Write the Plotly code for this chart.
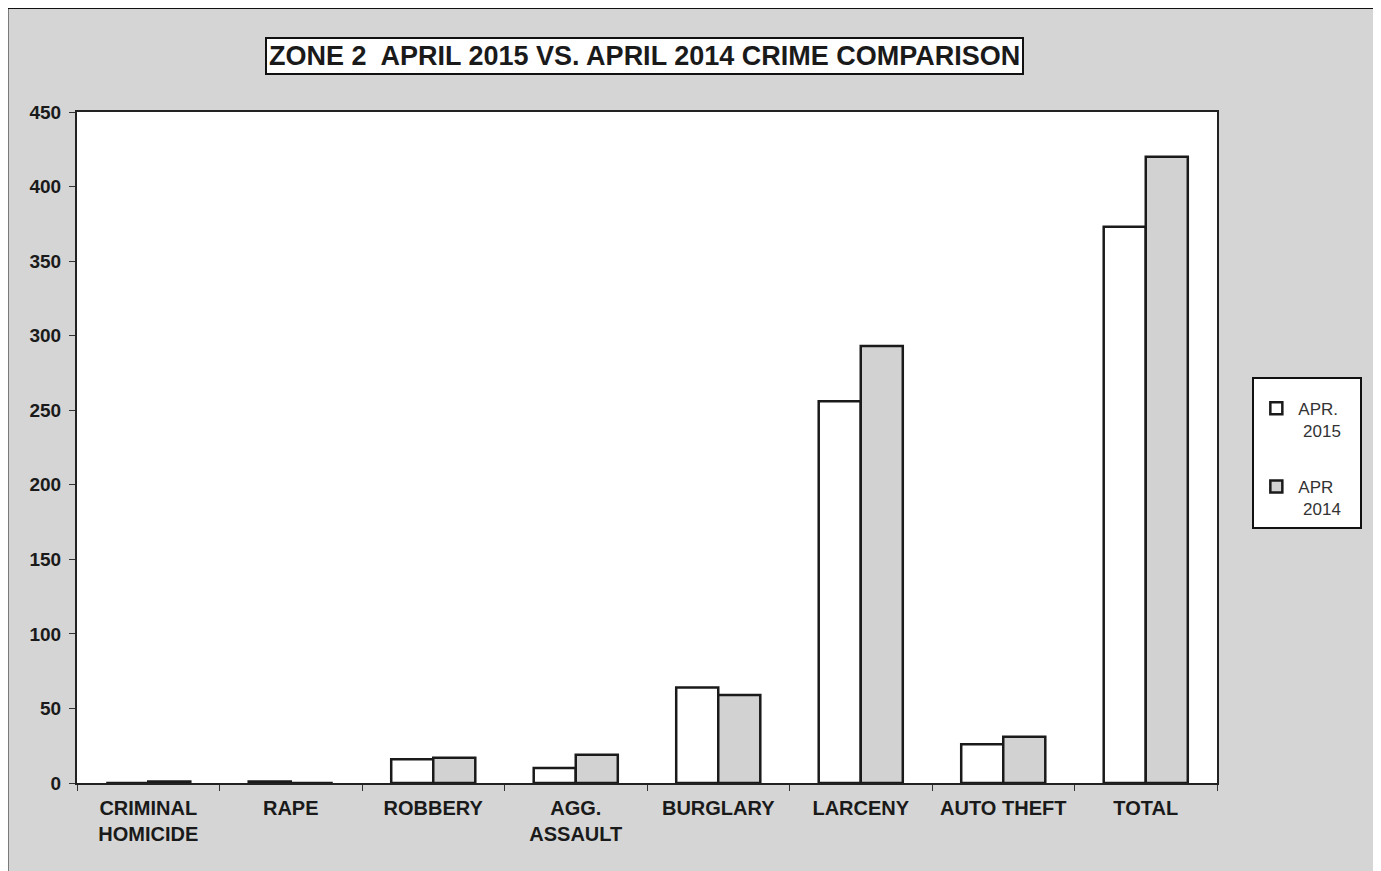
import plotly.graph_objects as go

# ---------------------------------------
# Data
# ---------------------------------------
categories = [
    "CRIMINAL<br>HOMICIDE", "RAPE", "ROBBERY", "AGG.<br>ASSAULT",
    "BURGLARY", "LARCENY", "AUTO THEFT", "TOTAL",
]
apr_2015 = [0, 1, 16, 10, 64, 256, 26, 373]
apr_2014 = [1, 0, 17, 19, 59, 293, 31, 420]
y_ticks = [0, 50, 100, 150, 200, 250, 300, 350, 400, 450]

FONT = "Liberation Sans, Arial, sans-serif"

fig = go.Figure()

fig.add_trace(
    go.Bar(
        x=categories,
        y=apr_2015,
        name="APR.<br> 2015   ",
        marker=dict(color="white", line=dict(color="#1a1a1a", width=2.5)),
        legendgroup="a",
    )
)
fig.add_trace(
    go.Bar(
        x=categories,
        y=apr_2014,
        name="APR<br> 2014   ",
        marker=dict(color="#d2d2d2", line=dict(color="#1a1a1a", width=2.5)),
        legendgroup="b",
    )
)

# page body has an 8px margin, so the figure is 8px smaller than the window
fig.update_layout(
    width=1373,
    height=863,
    barmode="group",
    bargap=0.41,
    bargroupgap=0,
    paper_bgcolor="#d5d5d5",
    plot_bgcolor="white",
    margin=dict(l=69, r=164, t=104, b=88),
    font=dict(family=FONT, color="#222222"),
    legend=dict(
        x=1.031,
        y=0.605,
        xanchor="left",
        yanchor="top",
        valign="top",
        bgcolor="white",
        bordercolor="#111111",
        borderwidth=2,
        font=dict(size=17, color="#333333"),
        title=dict(text=" ", font=dict(size=9)),
        traceorder="grouped",
        tracegroupgap=31,
        itemwidth=34,
    ),
    annotations=[
        dict(
            text="<b>ZONE 2  APRIL 2015 VS. APRIL 2014 CRIME COMPARISON</b>",
            x=0.498,
            y=1.083,
            xref="paper",
            yref="paper",
            xanchor="center",
            yanchor="middle",
            showarrow=False,
            font=dict(size=27, color="#1a1a1a", family=FONT),
            bgcolor="white",
            bordercolor="#111111",
            borderwidth=2,
            borderpad=2,
        )
    ],
    shapes=[
        # outer chart frame (left + top edges)
        dict(type="line", xref="paper", yref="paper",
             x0=-0.061, x1=-0.061, y0=-0.14, y1=1.155,
             line=dict(color="#111111", width=2)),
        dict(type="line", xref="paper", yref="paper",
             x0=-0.061, x1=1.15, y0=1.155, y1=1.155,
             line=dict(color="#111111", width=2)),
    ],
)

fig.update_xaxes(
    type="category",
    tickson="boundaries",
    ticks="outside",
    ticklen=6,
    tickcolor="#333333",
    tickfont=dict(size=20, color="#1a1a1a", weight="bold"),
    ticklabelstandoff=6,
    showline=True,
    linecolor="#222222",
    linewidth=2,
    mirror=True,
    showgrid=False,
)
fig.update_yaxes(
    range=[0, 450],
    tickvals=y_ticks,
    ticks="outside",
    ticklen=6,
    tickcolor="#333333",
    tickfont=dict(size=19, color="#1a1a1a", weight="bold"),
    ticklabelstandoff=4,
    showline=True,
    linecolor="#222222",
    linewidth=2,
    mirror=True,
    showgrid=False,
    zeroline=False,
)

fig.write_html("out.html")
